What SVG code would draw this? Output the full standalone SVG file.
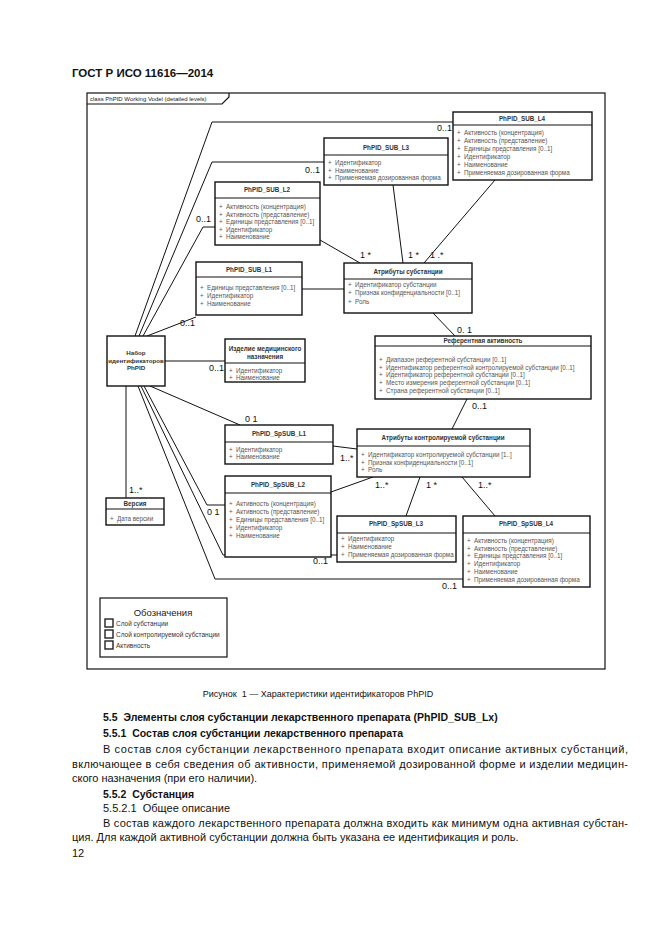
<svg xmlns="http://www.w3.org/2000/svg" width="661" height="936" viewBox="0 0 661 936">
<style>
.bg{fill:#fff}
.frame{fill:none;stroke:#111;stroke-width:1.2}
.box{fill:#fff;stroke:#111;stroke-width:1.4}
.sep{stroke:#111;stroke-width:1.1}
.ttl{font-family:"Liberation Sans",Arial,sans-serif;font-size:6.3px;font-weight:bold;fill:#333;text-anchor:middle}
.att{font-family:"Liberation Sans",Arial,sans-serif;font-size:6.3px;fill:#555}
.lbl{font-family:"Liberation Sans",Arial,sans-serif;font-size:9px;fill:#111}
.conn{fill:none;stroke:#111;stroke-width:1}
.tab{font-family:"Liberation Sans",Arial,sans-serif;font-size:6px;fill:#222}
.leg{font-family:"Liberation Sans",Arial,sans-serif;font-size:6.5px;fill:#333}
.sq{fill:#fff;stroke:#222;stroke-width:1.4}
.body{font-family:"Liberation Sans",Arial,sans-serif;font-size:11px;fill:#111}
.bold{font-family:"Liberation Sans",Arial,sans-serif;font-size:10.5px;font-weight:bold;fill:#111}
</style>
<rect class="bg" x="0" y="0" width="661" height="936"/>

<text class="bold" x="72" y="77" style="font-size:11.5px">ГОСТ Р ИСО 11616—2014</text>

<g id="frame">
<rect class="frame" x="87" y="93" width="518" height="576"/>
<path class="frame" d="M87,104 H222 L229,97 V93"/>
<text class="tab" x="90" y="101">class PhPID Working Vodel (detailed levels)</text>
</g>

<g id="connectors">
<polyline class="conn" points="135,336 212,122 453,122"/>
<polyline class="conn" points="139,336 212,162 324,162"/>
<polyline class="conn" points="143,336 203,227 215,227"/>
<line class="conn" x1="147" y1="336" x2="196" y2="317"/>
<line class="conn" x1="165" y1="361" x2="225" y2="361"/>
<line class="conn" x1="150" y1="386" x2="240" y2="425"/>
<line class="conn" x1="126" y1="386" x2="126" y2="498"/>
<polyline class="conn" points="144,386 207,505 225,505"/>
<polyline class="conn" points="141,386 223,555 337,555"/>
<polyline class="conn" points="138,386 215,579 463,579"/>
<line class="conn" x1="320" y1="240" x2="360" y2="263"/>
<line class="conn" x1="393" y1="185" x2="403" y2="263"/>
<line class="conn" x1="495" y1="180" x2="424" y2="263"/>
<line class="conn" x1="302" y1="289" x2="344" y2="289"/>
<line class="conn" x1="433" y1="313" x2="455" y2="336"/>
<line class="conn" x1="467" y1="399" x2="452" y2="429"/>
<line class="conn" x1="333" y1="446" x2="357" y2="449"/>
<line class="conn" x1="331" y1="492" x2="373" y2="477"/>
<line class="conn" x1="420" y1="477" x2="406" y2="516"/>
<line class="conn" x1="462" y1="477" x2="495" y2="516"/>
<text class="lbl" x="437" y="131">0..1</text>
<text class="lbl" x="305" y="173">0..1</text>
<text class="lbl" x="196" y="222">0..1</text>
<text class="lbl" x="180" y="326">0..1</text>
<text class="lbl" x="209" y="371">0..1</text>
<text class="lbl" x="245" y="422">0 1</text>
<text class="lbl" x="129" y="493">1..*</text>
<text class="lbl" x="207" y="515">0 1</text>
<text class="lbl" x="313" y="564">0..1</text>
<text class="lbl" x="442" y="589">0..1</text>
<text class="lbl" x="360" y="258">1 *</text>
<text class="lbl" x="408" y="258">1 *</text>
<text class="lbl" x="430" y="258">1 .*</text>
<text class="lbl" x="457" y="333">0. 1</text>
<text class="lbl" x="472" y="409">0..1</text>
<text class="lbl" x="340" y="461">1..*</text>
<text class="lbl" x="375" y="488">1..*</text>
<text class="lbl" x="426" y="488">1 *</text>
<text class="lbl" x="478" y="488">1..*</text>
</g>

<g id="PhPID_SUB_L4">
<rect class="box" x="453" y="112" width="139" height="68"/>
<line class="sep" x1="453" y1="125" x2="592" y2="125"/>
<text class="ttl" x="522" y="121">PhPID_SUB_L4</text>
<text class="att" x="457" y="135">+<tspan x="464">Активность (концентрация)</tspan></text>
<text class="att" x="457" y="143">+<tspan x="464">Активность (представление)</tspan></text>
<text class="att" x="457" y="151">+<tspan x="464">Единицы представления [0..1]</tspan></text>
<text class="att" x="457" y="159">+<tspan x="464">Идентификатор</tspan></text>
<text class="att" x="457" y="167">+<tspan x="464">Наименование</tspan></text>
<text class="att" x="457" y="175">+<tspan x="464">Применяемая дозированная форма</tspan></text>
</g>

<g id="PhPID_SUB_L3">
<rect class="box" x="324" y="138" width="124" height="47"/>
<line class="sep" x1="324" y1="155" x2="448" y2="155"/>
<text class="ttl" x="386" y="150">PhPID_SUB_L3</text>
<text class="att" x="328" y="165">+<tspan x="335">Идентификатор</tspan></text>
<text class="att" x="328" y="172.5">+<tspan x="335">Наименование</tspan></text>
<text class="att" x="328" y="180">+<tspan x="335">Применяемая дозированная форма</tspan></text>
</g>

<g id="PhPID_SUB_L2">
<rect class="box" x="215" y="182" width="105" height="63"/>
<line class="sep" x1="215" y1="198" x2="320" y2="198"/>
<text class="ttl" x="267" y="192">PhPID_SUB_L2</text>
<text class="att" x="219" y="209">+<tspan x="226">Активность (концентрация)</tspan></text>
<text class="att" x="219" y="216.5">+<tspan x="226">Активность (представление)</tspan></text>
<text class="att" x="219" y="224">+<tspan x="226">Единицы представления [0..1]</tspan></text>
<text class="att" x="219" y="231.5">+<tspan x="226">Идентификатор</tspan></text>
<text class="att" x="219" y="239">+<tspan x="226">Наименование</tspan></text>
</g>

<g id="PhPID_SUB_L1">
<rect class="box" x="196" y="262" width="106" height="53"/>
<line class="sep" x1="196" y1="277" x2="302" y2="277"/>
<text class="ttl" x="249" y="271.5">PhPID_SUB_L1</text>
<text class="att" x="200" y="290">+<tspan x="207">Единицы представления [0..1]</tspan></text>
<text class="att" x="200" y="298">+<tspan x="207">Идентификатор</tspan></text>
<text class="att" x="200" y="306">+<tspan x="207">Наименование</tspan></text>
</g>

<g id="Atributy_substancii">
<rect class="box" x="344" y="263" width="128" height="50"/>
<line class="sep" x1="344" y1="279" x2="472" y2="279"/>
<text class="ttl" x="408" y="273.5">Атрибуты субстанции</text>
<text class="att" x="348" y="287">+<tspan x="355">Идентификатор субстанции</tspan></text>
<text class="att" x="348" y="295">+<tspan x="355">Признак конфиденциальности [0..1]</tspan></text>
<text class="att" x="348" y="303.5">+<tspan x="355">Роль</tspan></text>
</g>

<g id="Referentnaya_aktivnost">
<rect class="box" x="375" y="336" width="216" height="63"/>
<line class="sep" x1="375" y1="346" x2="591" y2="346"/>
<text class="ttl" x="483" y="343">Референтная активность</text>
<text class="att" x="379" y="362">+<tspan x="386">Диапазон референтной субстанции [0..1]</tspan></text>
<text class="att" x="379" y="369.5">+<tspan x="386">Идентификатор референтной контролируемой субстанции [0..1]</tspan></text>
<text class="att" x="379" y="377">+<tspan x="386">Идентификатор референтной субстанции [0..1]</tspan></text>
<text class="att" x="379" y="385">+<tspan x="386">Место измерения референтной субстанции [0..1]</tspan></text>
<text class="att" x="379" y="393">+<tspan x="386">Страна референтной субстанции [0..1]</tspan></text>
</g>

<g id="Nabor_PhPID">
<rect class="box" x="107" y="336" width="58" height="50"/>
<text class="ttl" x="136" y="355" style="font-size:6.2px">Набор</text>
<text class="ttl" x="136" y="362.5" style="font-size:6.2px">идентификаторов</text>
<text class="ttl" x="136" y="370" style="font-size:6.2px">PhPID</text>
</g>

<g id="Izdelie">
<rect class="box" x="225" y="339" width="80" height="43"/>
<line class="sep" x1="225" y1="363" x2="305" y2="363"/>
<text class="ttl" x="265" y="351">Изделие медицинского</text>
<text class="ttl" x="265" y="358.5">назначения</text>
<text class="att" x="229" y="372.5">+<tspan x="236">Идентификатор</tspan></text>
<text class="att" x="229" y="379.5">+<tspan x="236">Наименование</tspan></text>
</g>

<g id="Versiya">
<rect class="box" x="106" y="498" width="58" height="27"/>
<line class="sep" x1="106" y1="509" x2="164" y2="509"/>
<text class="ttl" x="135" y="506">Версия</text>
<text class="att" x="110" y="521">+<tspan x="117">Дата версии</tspan></text>
</g>

<g id="PhPID_SpSUB_L1">
<rect class="box" x="225" y="425" width="108" height="39"/>
<line class="sep" x1="225" y1="442" x2="333" y2="442"/>
<text class="ttl" x="279" y="436">PhPID_SpSUB_L1</text>
<text class="att" x="229" y="452">+<tspan x="236">Идентификатор</tspan></text>
<text class="att" x="229" y="459">+<tspan x="236">Наименование</tspan></text>
</g>

<g id="Atributy_kontr_substancii">
<rect class="box" x="357" y="429" width="173" height="48"/>
<line class="sep" x1="357" y1="446" x2="530" y2="446"/>
<text class="ttl" x="443" y="440">Атрибуты контролируемой субстанции</text>
<text class="att" x="361" y="457">+<tspan x="368">Идентификатор контролируемой субстанции [1..]</tspan></text>
<text class="att" x="361" y="464.5">+<tspan x="368">Признак конфиденциальности [0..1]</tspan></text>
<text class="att" x="361" y="472">+<tspan x="368">Роль</tspan></text>
</g>

<g id="PhPID_SpSUB_L2">
<rect class="box" x="225" y="476" width="106" height="81"/>
<line class="sep" x1="225" y1="493" x2="331" y2="493"/>
<text class="ttl" x="278" y="487">PhPID_SpSUB_L2</text>
<text class="att" x="229" y="506">+<tspan x="236">Активность (концентрация)</tspan></text>
<text class="att" x="229" y="514">+<tspan x="236">Активность (представление)</tspan></text>
<text class="att" x="229" y="522">+<tspan x="236">Единицы представления [0..1]</tspan></text>
<text class="att" x="229" y="530">+<tspan x="236">Идентификатор</tspan></text>
<text class="att" x="229" y="538">+<tspan x="236">Наименование</tspan></text>
</g>

<g id="PhPID_SpSUB_L3">
<rect class="box" x="337" y="516" width="119" height="46"/>
<line class="sep" x1="337" y1="533" x2="456" y2="533"/>
<text class="ttl" x="396" y="526">PhPID_SpSUB_L3</text>
<text class="att" x="341" y="541">+<tspan x="348">Идентификатор</tspan></text>
<text class="att" x="341" y="549">+<tspan x="348">Наименование</tspan></text>
<text class="att" x="341" y="557">+<tspan x="348">Применяемая дозированная форма</tspan></text>
</g>

<g id="PhPID_SpSUB_L4">
<rect class="box" x="463" y="516" width="127" height="71"/>
<line class="sep" x1="463" y1="533" x2="590" y2="533"/>
<text class="ttl" x="526" y="526">PhPID_SpSUB_L4</text>
<text class="att" x="467" y="543">+<tspan x="474">Активность (концентрация)</tspan></text>
<text class="att" x="467" y="550.5">+<tspan x="474">Активность (представление)</tspan></text>
<text class="att" x="467" y="558">+<tspan x="474">Единицы представления [0..1]</tspan></text>
<text class="att" x="467" y="566">+<tspan x="474">Идентификатор</tspan></text>
<text class="att" x="467" y="574">+<tspan x="474">Наименование</tspan></text>
<text class="att" x="467" y="582">+<tspan x="474">Применяемая дозированная форма</tspan></text>
</g>

<g id="legend">
<rect class="box" x="100" y="598" width="127" height="59" style="stroke-width:1.2"/>
<text x="163" y="616" style="font-family:'Liberation Sans',Arial,sans-serif;font-size:9.5px;fill:#222;text-anchor:middle">Обозначения</text>
<rect class="sq" x="105" y="619" width="8" height="8"/>
<rect class="sq" x="105" y="630" width="8" height="8"/>
<rect class="sq" x="105" y="641" width="8" height="8"/>
<text class="leg" x="116" y="625.5">Слой субстанции</text>
<text class="leg" x="116" y="636.5">Слой контролируемой субстанции</text>
<text class="leg" x="116" y="647.5">Активность</text>
</g>

<g id="page-text">
<text class="body" x="318" y="697" style="font-size:9px;text-anchor:middle">Рисунок&#160; 1 — Характеристики идентификаторов PhPID</text>
<text class="bold" x="103" y="721">5.5&#160; Элементы слоя субстанции лекарственного препарата (PhPID_SUB_Lx)</text>
<text class="bold" x="103" y="737">5.5.1&#160; Состав слоя субстанции лекарственного препарата</text>
<text class="body" x="103" y="753" textLength="525">В состав слоя субстанции лекарственного препарата входит описание активных субстанций,</text>
<text class="body" x="72" y="768" textLength="556">включающее в себя сведения об активности, применяемой дозированной форме и изделии медицин-</text>
<text class="body" x="72" y="782">ского назначения (при его наличии).</text>
<text class="bold" x="103" y="798">5.5.2&#160; Субстанция</text>
<text class="body" x="103" y="812">5.5.2.1&#160; Общее описание</text>
<text class="body" x="103" y="827" textLength="525">В состав каждого лекарственного препарата должна входить как минимум одна активная субстан-</text>
<text class="body" x="72" y="841">ция. Для каждой активной субстанции должна быть указана ее идентификация и роль.</text>
<text class="body" x="72" y="857">12</text>
</g>
</svg>
